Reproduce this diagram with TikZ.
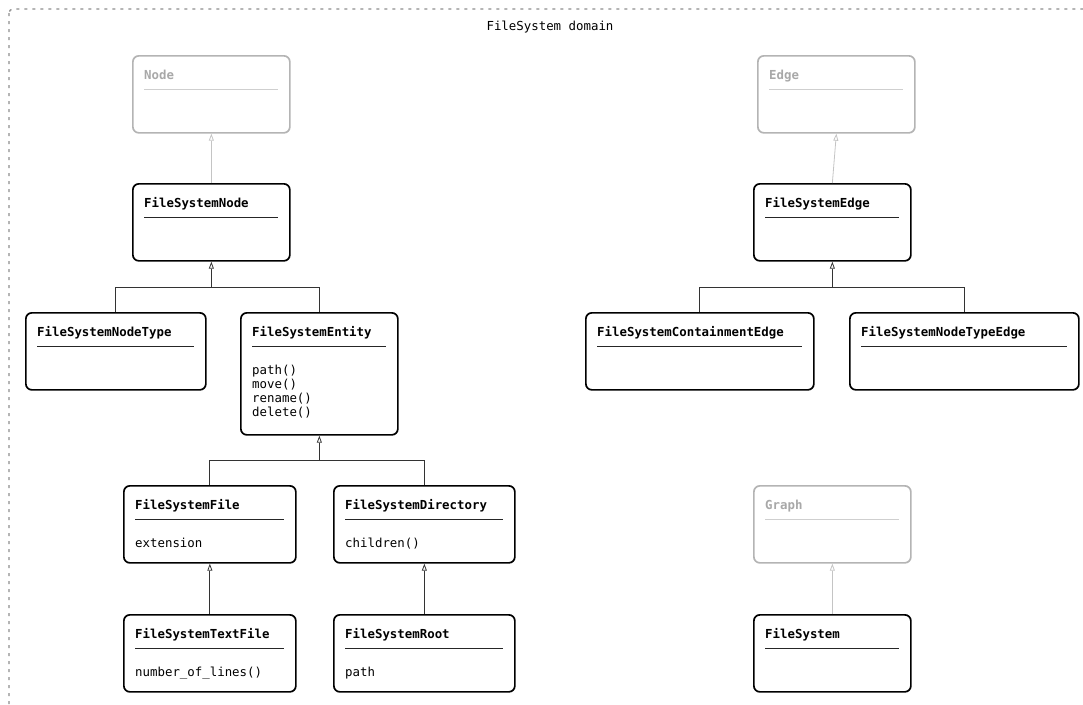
\documentclass[tikz,border=0pt]{standalone}
\usepackage{fontspec}
\setmonofont{DejaVu Sans Mono}
\usetikzlibrary{arrows.meta}

\definecolor{absgray}{HTML}{B4B4B4}
\definecolor{abstext}{HTML}{A8A8A8}
\definecolor{seplight}{HTML}{CFCFCF}
\definecolor{linkgray}{HTML}{C4C4C4}
\definecolor{framegray}{HTML}{8E8E8E}
\newcommand{\umlfont}{\ttfamily\fontsize{12.4}{14}\selectfont}

\tikzset{
  cls/.style={draw, line width=1.7pt, rounded corners=6pt, anchor=north west,
    minimum height=77pt, inner sep=0pt},
  abstract/.style={cls, draw=absgray},
  ttl/.style={anchor=base west, inner sep=0pt, font=\umlfont\bfseries},
  attr/.style={anchor=base west, inner sep=0pt, align=left, font=\umlfont},
  inherit/.style={draw=black!80, line width=0.8pt, -{Triangle[open, length=7pt, width=5pt]}},
  inheritgray/.style={inherit, draw=linkgray},
}

\begin{document}
\begin{tikzpicture}[x=1pt,y=-1pt]
\clip (0,0) rectangle (1083,704);

% domain frame
\draw [framegray, line width=1.3pt, dash pattern=on 3pt off 5pt, rounded corners=4pt]
  (9,9) rectangle (1100,720);
\node [font=\umlfont] (domain) at (550,27) {FileSystem domain};

% base classes
\node [abstract, minimum width=157] (node)  at (132,55)  {};
\node [abstract, minimum width=157] (edge)  at (757,55)  {};
\node [abstract, minimum width=157] (graph) at (753,485) {};

% filesystem classes
\node [cls, minimum width=157] (fsnode)     at (132,183) {};
\node [cls, minimum width=157] (fsedge)     at (753,183) {};
\node [cls, minimum width=180] (fsnodetype) at (25,312)  {};
\node [cls, minimum width=157, minimum height=122] (fsentity) at (240,312) {};
\node [cls, minimum width=228] (fscontain)  at (585,312) {};
\node [cls, minimum width=229] (fstypeedge) at (849,312) {};
\node [cls, minimum width=172] (fsfile)     at (123,485) {};
\node [cls, minimum width=181] (fsdir)      at (333,485) {};
\node [cls, minimum width=172] (fstextfile) at (123,614) {};
\node [cls, minimum width=181] (fsroot)     at (333,614) {};
\node [cls, minimum width=157] (fs)         at (753,614) {};

% titles and separators
\foreach \c/\t in {node/Node, edge/Edge, graph/Graph} {
  \node [ttl, text=abstext] (\c-title) at ([shift={(12,24)}]\c.north west) {\t};
  \draw [seplight, line width=0.8pt]
    ([shift={(12,34)}]\c.north west) -- ([shift={(-13,34)}]\c.north east);
}
\foreach \c/\t in {fsnode/FileSystemNode, fsedge/FileSystemEdge,
    fsnodetype/FileSystemNodeType, fsentity/FileSystemEntity,
    fscontain/FileSystemContainmentEdge, fstypeedge/FileSystemNodeTypeEdge,
    fsfile/FileSystemFile, fsdir/FileSystemDirectory,
    fstextfile/FileSystemTextFile, fsroot/FileSystemRoot, fs/FileSystem} {
  \node [ttl] (\c-title) at ([shift={(12,24)}]\c.north west) {\t};
  \draw [black!85, line width=0.8pt]
    ([shift={(12,34)}]\c.north west) -- ([shift={(-13,34)}]\c.north east);
}

% members (base of a multi-line node is its last line)
\node [attr] (fsentity-ops) at ([shift={(12,104)}]fsentity.north west)
  {path()\\move()\\rename()\\delete()};
\node [attr] (fsfile-ops)     at ([shift={(12,62)}]fsfile.north west)     {extension};
\node [attr] (fsdir-ops)      at ([shift={(12,62)}]fsdir.north west)      {children()};
\node [attr] (fstextfile-ops) at ([shift={(12,62)}]fstextfile.north west) {number\_of\_lines()};
\node [attr] (fsroot-ops)     at ([shift={(12,62)}]fsroot.north west)     {path};

% generalisations
\coordinate (fsnode-bus)   at ([yshift=-26pt]fsnode.south);
\coordinate (fsedge-bus)   at ([yshift=-26pt]fsedge.south);
\coordinate (fsentity-bus) at ([yshift=-25pt]fsentity.south);

\draw [inheritgray] (fsnode.north) -- (node.south);
\draw [inheritgray] (fsedge.north) -- (edge.south);
\draw [inheritgray] (fs.north) -- (graph.south);

\draw [inherit] (fsnodetype.north) |- (fsnode-bus) -- (fsnode.south);
\draw [black!80, line width=0.8pt] (fsentity.north) |- (fsnode-bus);
\draw [inherit] (fscontain.north) |- (fsedge-bus) -- (fsedge.south);
\draw [black!80, line width=0.8pt] (fstypeedge.north) |- (fsedge-bus);
\draw [inherit] (fsfile.north) |- (fsentity-bus) -- (fsentity.south);
\draw [black!80, line width=0.8pt] (fsdir.north) |- (fsentity-bus);
\draw [inherit] (fstextfile.north) -- (fsfile.south);
\draw [inherit] (fsroot.north) -- (fsdir.south);
\end{tikzpicture}
\end{document}
